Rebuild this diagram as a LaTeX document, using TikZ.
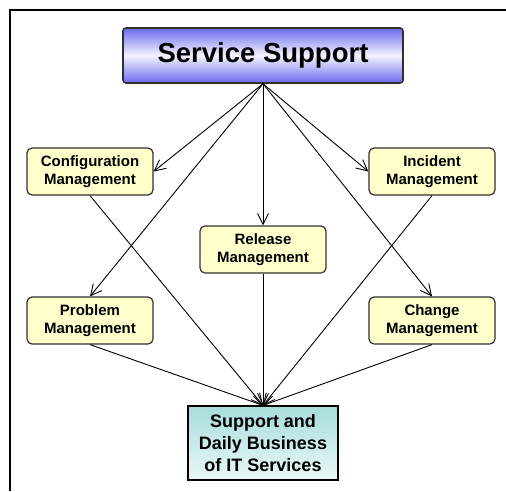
\documentclass[tikz,border=0pt]{standalone}
\usepackage{fontspec}
\setmainfont{Liberation Sans}
\usetikzlibrary{arrows.meta}
\definecolor{boxyellow}{HTML}{FFFFCC}
\definecolor{ssblue}{HTML}{6A6AF0}
\definecolor{sswhite}{HTML}{F4F4FF}
\definecolor{tealtop}{HTML}{A8DCDC}
\definecolor{tealbot}{HTML}{EAF8F8}
\definecolor{bordergray}{HTML}{303030}
\begin{document}
\begin{tikzpicture}[x=1pt,y=-1pt,
  procbox/.style={draw=bordergray, line width=1.2pt, rounded corners=5pt, fill=boxyellow,
    minimum width=126pt, minimum height=47pt, align=center, inner sep=0pt,
    font=\fontsize{15}{17.5}\selectfont\bfseries},
  topbox/.style={draw=bordergray, line width=1.6pt, rounded corners=3pt,
    top color=ssblue, bottom color=ssblue, middle color=sswhite,
    minimum width=280pt, minimum height=55pt, inner sep=0pt,
    font=\fontsize{27.5}{30}\selectfont\bfseries},
  basebox/.style={draw=black, line width=1.2pt,
    top color=tealtop, bottom color=tealbot,
    minimum width=150pt, minimum height=74pt, align=center, inner sep=0pt,
    font=\fontsize{18}{22}\selectfont\bfseries},
  conn/.style={line width=0.9pt, -{Straight Barb[length=11pt,width=11pt,line width=0.9pt]}}
]
\useasboundingbox (0,0) rectangle (506,491);
\draw[line width=1.3pt] (10,491) -- (10,10) -- (506,10);

\node[topbox] (ss) at (263,55.5) {Service Support};
\node[procbox] (cfg) at (90,171.5) {Configuration\\Management};
\node[procbox] (inc) at (432,171.5) {Incident\\Management};
\node[procbox] (rel) at (263,249.5) {Release\\Management};
\node[procbox] (prb) at (90,320.5) {Problem\\Management};
\node[procbox] (chg) at (432,320.5) {Change\\Management};
\node[basebox] (base) at (263,443) {Support and\\Daily Business\\of IT Services};

\draw[conn] (ss.south) -- (cfg.east);
\draw[conn] (ss.south) -- (inc.west);
\draw[conn] (ss.south) -- (rel.north);
\draw[conn] (ss.south) -- (prb.north);
\draw[conn] (ss.south) -- (chg.north);

\draw[conn] (cfg.south) -- (base.north);
\draw[conn] (inc.south) -- (base.north);
\draw[conn] (rel.south) -- (base.north);
\draw[conn] (prb.south) -- (base.north);
\draw[conn] (chg.south) -- (base.north);
\end{tikzpicture}
\end{document}
